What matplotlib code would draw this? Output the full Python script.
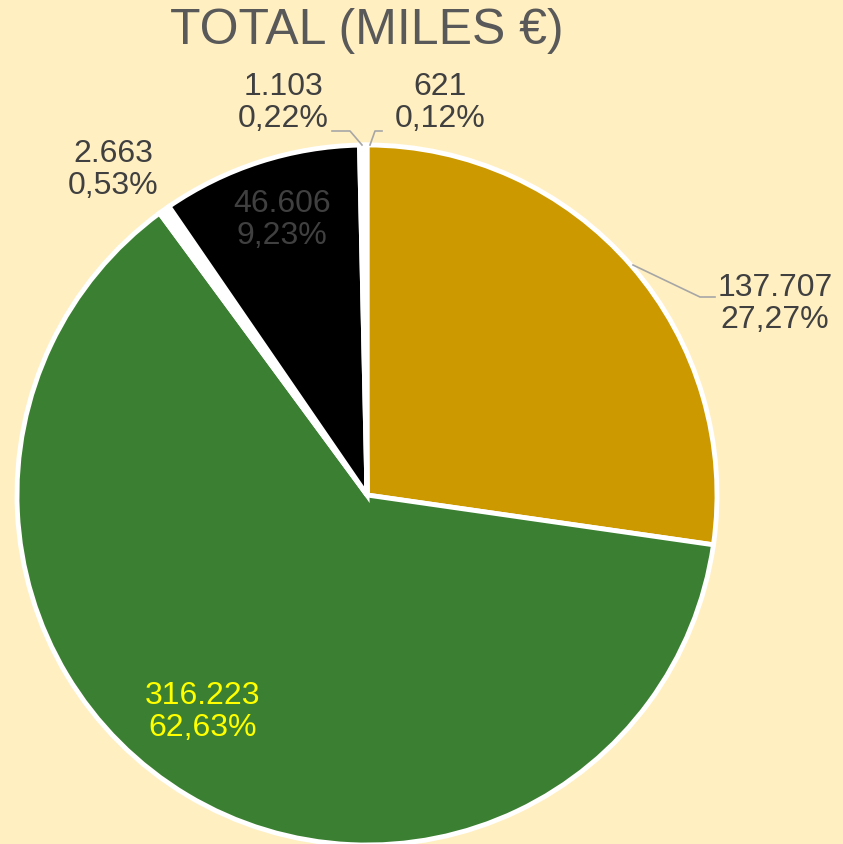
import matplotlib.pyplot as plt

# data (miles de euros), clockwise from 12 o'clock
valores = [137707, 316223, 2663, 46606, 1103, 621]
colores = ['#CC9900', '#3B7F32', '#FFFFFF', '#000000', '#FFFFFF', '#FFFFFF']
colores_texto = ['#404040', '#FFFF00', '#404040', '#404040', '#404040', '#404040']

# label positions in pixel coordinates (x, y from top)
pos_labels = [(775, 304), (203, 712), (113, 170), (282, 220), (283, 103), (440, 103)]
# leader lines (pixel coords from top), None = no line
lineas = [[(633, 265), (700, 297), (715, 297)], None, None, None,
          [(332, 131), (350, 131), (362, 145)], [(382, 131), (375, 131), (370, 145)]]

W, H = 843, 844
bg = '#FFEFC1'


def fmt_miles(v):
    return f'{v:,}'.replace(',', '.')


def fmt_pct(p):
    return f'{p:.2f}%'.replace('.', ',')


plt.rcParams['font.family'] = ['Liberation Sans', 'DejaVu Sans']

fig = plt.figure(figsize=(W / 100, H / 100), dpi=100, facecolor=bg)
ax = fig.add_axes([0, 0, 1, 1])
ax.set_facecolor(bg)

cx, cy, r = 367, H - 495, 350
ax.pie(valores, colors=colores, startangle=90, counterclock=False,
       center=(cx, cy), radius=r,
       wedgeprops=dict(edgecolor='white', linewidth=3.5))

total = sum(valores)
for v, c, (x, y), ln in zip(valores, colores_texto, pos_labels, lineas):
    ax.text(x, H - y, fmt_miles(v) + '\n' + fmt_pct(100 * v / total),
            ha='center', va='center', fontsize=23, color=c, linespacing=1.12)
    if ln is not None:
        ax.plot([p[0] for p in ln], [H - p[1] for p in ln], color='#A6A6A6', lw=1.2)

ax.text(367, H - 31, 'TOTAL (MILES €)', ha='center', va='center',
        fontsize=36, color='#595959')

ax.set_xlim(0, W)
ax.set_ylim(0, H)
ax.set_aspect('auto')
ax.axis('off')

fig.savefig('out.png', dpi=100, facecolor=bg)
